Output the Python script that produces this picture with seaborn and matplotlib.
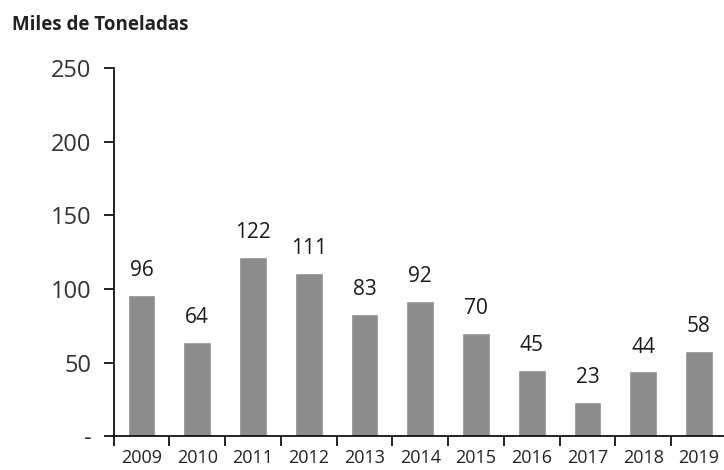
import pandas as pd
import numpy as np
import matplotlib
matplotlib.use("Agg")
import matplotlib.pyplot as plt
import seaborn as sns
from matplotlib.ticker import FixedLocator

years = ["2009", "2010", "2011", "2012", "2013", "2014",
         "2015", "2016", "2017", "2018", "2019"]
tonnes = [96, 64, 122, 111, 83, 92, 70, 45, 23, 44, 58]
y_ticks = [0, 50, 100, 150, 200, 250]
y_labels = ["-", "50", "100", "150", "200", "250"]

df = pd.DataFrame({"year": years, "tonnes": tonnes})

sns.set_style("white")
plt.rcParams["font.family"] = ["Open Sans", "DejaVu Sans"]

fig = plt.figure(figsize=(7.24, 4.70), dpi=100)
ax = fig.add_axes([0.157, 0.072, 0.847, 0.783])

sns.barplot(data=df, x="year", y="tonnes", color="#8c8c8c",
            width=0.5, saturation=1, ax=ax)

ax.bar_label(ax.containers[0], padding=10, fontsize=15, color="#1a1a1a")

ax.set_ylim(0, 250)
ax.set_xlim(-0.5, len(years) - 0.5)
ax.set_yticks(y_ticks)
ax.set_yticklabels(y_labels, fontsize=17, color="#333333")
ax.tick_params(axis="y", direction="out", length=7, width=1.3,
               color="#111111", pad=9, left=True)

ax.tick_params(axis="x", which="major", length=0, labelsize=13,
               labelcolor="#222222", pad=9)
ax.xaxis.set_minor_locator(FixedLocator(np.arange(-0.5, len(years), 1.0)))
ax.tick_params(axis="x", which="minor", direction="out", length=7,
               width=1.3, color="#111111", bottom=True)

for side in ["top", "right"]:
    ax.spines[side].set_visible(False)
for side in ["left", "bottom"]:
    ax.spines[side].set_color("#111111")
    ax.spines[side].set_linewidth(1.3)

ax.set_xlabel("")
ax.set_ylabel("")

fig.text(0.016, 0.947, "Miles de Toneladas", fontsize=13.5,
         fontweight="bold", color="#222222", ha="left", va="center")

fig.savefig("out.png", dpi=100)
